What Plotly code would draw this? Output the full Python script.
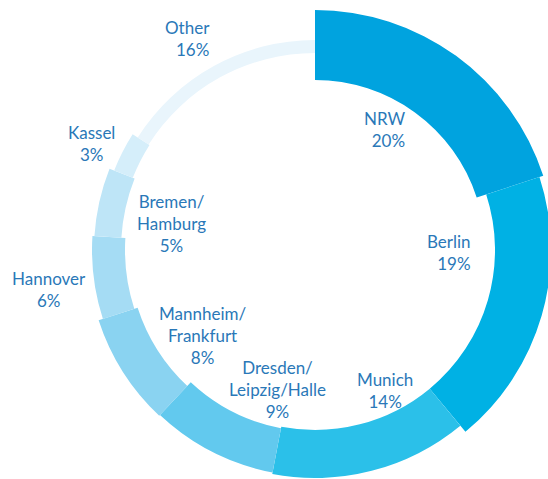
import plotly.graph_objects as go

# ---- data ----
regions = ["NRW", "Berlin", "Munich", "Dresden/Leipzig/Halle", "Mannheim/Frankfurt",
           "Hannover", "Bremen/Hamburg", "Kassel", "Other"]
shares = [20, 19, 14, 9, 8, 6, 5, 3, 16]
label_lines = [["NRW"], ["Berlin"], ["Munich"], ["Dresden/", "Leipzig/Halle"],
               ["Mannheim/", "Frankfurt"], ["Hannover"], ["Bremen/", "Hamburg"],
               ["Kassel"], ["Other"]]

# ---- style ----
W, H = 560, 495                      # figure a bit larger than the 548x479 view (right/bottom cropped)
CX, CY, RPX = 315, 250, 245          # polar centre and frame radius in px
ring_mid = [205, 208, 204, 204, 207, 206.5, 207.5, 206, 203.5]
ring_thickness = [70, 56, 48, 45, 41, 33, 27, 20, 13]
colors = ["#00a3df", "#00b1e4", "#2bc0e9", "#62c9ee", "#8ad3f1",
          "#a5dcf4", "#bee5f7", "#d5eefa", "#e9f5fc"]
text_color = "#2a78b8"
font_family = "Lato, 'Open Sans', sans-serif"
font_size = 17
# label block anchor (x, y centre in px) and alignment
label_pos = [(407, 129), (473, 253), (384.5, 390), (277.5, 389), (202, 335.5),
             (48.5, 289.5), (171.5, 223.5), (91.3, 143.5), (212, 38.5)]
label_align = ["right", "right", "center", "center", "center",
               "center", "center", "center", "right"]

# ---- geometry through polar axes ----
theta_mid, acc = [], 0
for s in shares:
    theta_mid.append((acc + s / 2) * 3.6)
    acc += s
widths = [s * 3.6 for s in shares]
bases = [m - t / 2 for m, t in zip(ring_mid, ring_thickness)]

fig = go.Figure()
fig.add_trace(go.Barpolar(
    r=ring_thickness, base=bases, theta=theta_mid, width=widths,
    marker=dict(color=colors, line=dict(width=0)),
    text=regions, hoverinfo="text", showlegend=False,
))

annotations = []
for lines, share, (px, py), al in zip(label_lines, shares, label_pos, label_align):
    annotations.append(dict(
        text="<br>".join(lines + [f"{share}%"]),
        x=px / W, y=1 - py / H, xref="paper", yref="paper",
        xanchor=al, yanchor="middle", align=al, showarrow=False,
        font=dict(family=font_family, size=font_size, color=text_color),
    ))

fig.update_layout(
    width=W, height=H, margin=dict(l=0, r=0, t=0, b=0),
    paper_bgcolor="white", plot_bgcolor="white",
    polar=dict(
        domain=dict(x=[(CX - RPX) / W, (CX + RPX) / W],
                    y=[(H - CY - RPX) / H, (H - CY + RPX) / H]),
        bgcolor="rgba(0,0,0,0)", hole=0,
        radialaxis=dict(range=[0, RPX], visible=False),
        angularaxis=dict(rotation=90, direction="clockwise", visible=False),
        bargap=0,
    ),
    annotations=annotations,
)

fig.write_html(
    "out.html",
    config={"displayModeBar": False},
    post_script="document.body.style.margin='0';document.body.style.overflow='hidden';",
)
